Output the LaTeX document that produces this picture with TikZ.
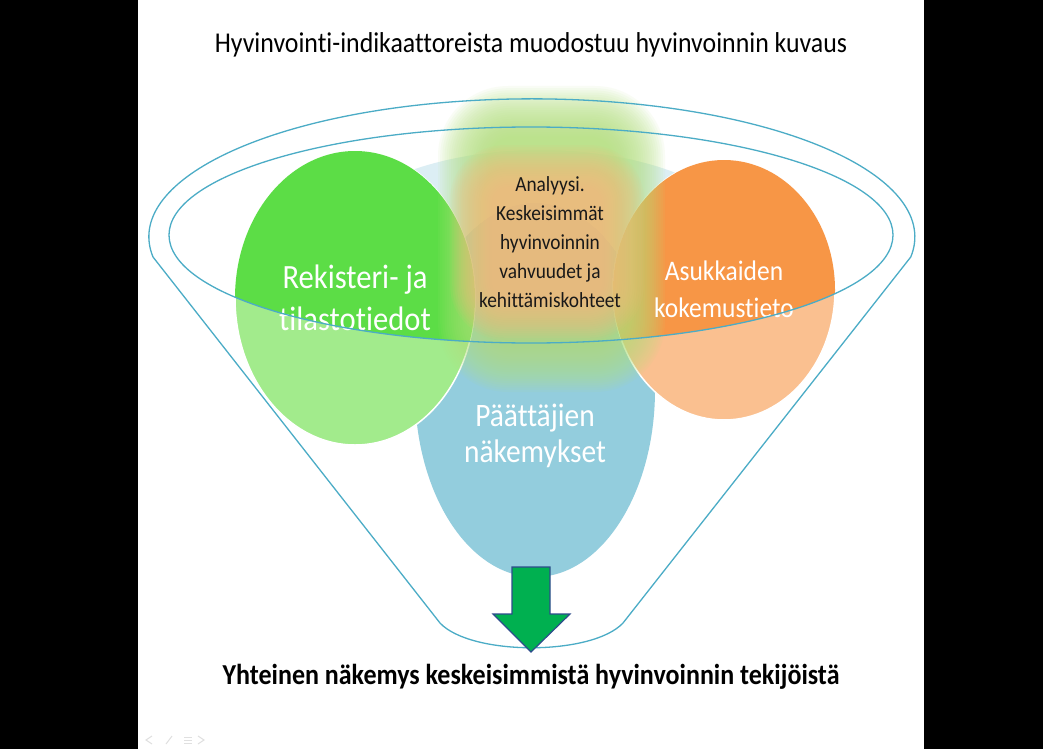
\documentclass[tikz,border=0pt]{standalone}
\usepackage{fontspec}
\usepackage{graphicx}
\setmainfont{Carlito}[Ligatures={NoCommon,NoContextual,NoRequired}, Contextuals=NoAlternate]
\definecolor{funnelc}{HTML}{4BACC6}
\definecolor{greenS}{HTML}{5CDD46}
\definecolor{greenL}{HTML}{A2EB8C}
\definecolor{orangeS}{HTML}{F79646}
\definecolor{orangeL}{HTML}{FAC090}
\definecolor{blueC}{HTML}{93CDDD}
\definecolor{paleblue}{HTML}{DCEEF4}
\definecolor{limeglow}{HTML}{B5E27E}
\definecolor{orglow}{HTML}{FBBA7E}
\definecolor{arrowfill}{HTML}{00B050}
\definecolor{arrowline}{HTML}{2E4C8C}
\newcommand{\sq}[1]{\scalebox{0.9}[1]{#1}}
\tikzset{
  funnelline/.style={draw=funnelc, line width=1.3pt},
  circtext/.style={text=white, align=center, inner sep=0pt},
  glowtext/.style={text=black!90, align=center, inner sep=0pt}
}
\begin{document}
\begin{tikzpicture}[x=1pt,y=-1pt]
\useasboundingbox (0,0) rectangle (1043,749);
\fill[white] (0,0) rectangle (1043,749);
\fill[black] (0,0) rectangle (138,749);
\fill[black] (924,0) rectangle (1043,749);

% pale blue background inside rim
\begin{scope}
  \clip (531,235) ellipse [x radius=362pt, y radius=108pt];
  \fill[paleblue] (540,252) ellipse [x radius=215pt, y radius=102pt];
\end{scope}

% blue circle
\fill[blueC] (535,390) ellipse [x radius=120pt, y radius=187pt];

% green circle
\fill[greenL, draw=white, line width=1.5pt] (355,298) ellipse [x radius=120pt, y radius=147pt];
\begin{scope}
  \clip (531,235) ellipse [x radius=362pt, y radius=108pt];
  \fill[greenS] (355,298) ellipse [x radius=120pt, y radius=147pt];
\end{scope}

% orange circle
\fill[orangeL, draw=white, line width=1.5pt] (724,290) ellipse [x radius=111pt, y radius=130pt];
\begin{scope}
  \clip (531,235) ellipse [x radius=362pt, y radius=108pt];
  \fill[orangeS] (724,290) ellipse [x radius=111pt, y radius=130pt];
\end{scope}

% glow
\foreach \i in {0,...,23}{
  \fill[limeglow, opacity=0.075, rounded corners={max(70-2*\i,20)*1pt}]
    ({438+2.2*\i},{86+2.2*\i}) rectangle ({665-2.2*\i},{392-2.2*\i});
}
\foreach \i in {0,...,19}{
  \fill[orglow, opacity=0.08, rounded corners={max(55-2*\i,15)*1pt}]
    ({450+2.2*\i},{145+2.2*\i}) rectangle ({644-2.2*\i},{340-2.2*\i});
}

% texts
\node[circtext, font=\fontsize{34}{42}\selectfont] (reg) at (355,297.5) {\sq{Rekisteri- ja}\\\sq{tilastotiedot}};
\node[circtext, font=\fontsize{28.3}{37}\selectfont] (asu) at (724,289) {\sq{Asukkaiden}\\\sq{kokemustieto}};
\node[circtext, font=\fontsize{32.7}{36}\selectfont] (paa) at (535,436) {\sq{Päättäjien}\\\sq{näkemykset}};
\node[glowtext, font=\fontsize{21.5}{29}\selectfont] (ana) at (550,242.5) {\sq{Analyysi.}\\\sq{Keskeisimmät}\\\sq{hyvinvoinnin}\\\sq{vahvuudet ja}\\\sq{kehittämiskohteet}};

% funnel
\draw[funnelline] (531,235) ellipse [x radius=362pt, y radius=108pt];
\draw[funnelline] (153,257) arc [start angle=188.4, end angle=-8.4, x radius=383pt, y radius=138pt]
  -- (623,623) .. controls (592,656) and (471,656) .. (440,623) -- cycle;

% arrow
\draw[fill=arrowfill, draw=arrowline, line width=1.2pt, line join=miter]
  (512,567) -- (550,567) -- (550,614) -- (570,614) -- (531,652) -- (493,614) -- (512,614) -- cycle;

% title and conclusion
\node[anchor=base, inner sep=0pt, font=\fontsize{28.7}{34}\selectfont] (title) at (531,53)
  {\sq{Hyvinvointi-indikaattoreista muodostuu hyvinvoinnin kuvaus}};
\node[anchor=base, inner sep=0pt, font=\fontsize{28.9}{34}\selectfont\bfseries] (concl) at (531,684)
  {\sq{Yhteinen näkemys keskeisimmistä hyvinvoinnin tekijöistä}};

% faint slide controls
\begin{scope}[draw=black!12, line width=1pt]
  \draw (152,736) -- (146,740) -- (152,744);
  \draw (166,744) -- (172,736);
  \draw (184,737) -- (192,737) (184,740) -- (192,740) (184,743) -- (192,743);
  \draw (198,736) -- (204,740) -- (198,744);
\end{scope}
\end{tikzpicture}
\end{document}
